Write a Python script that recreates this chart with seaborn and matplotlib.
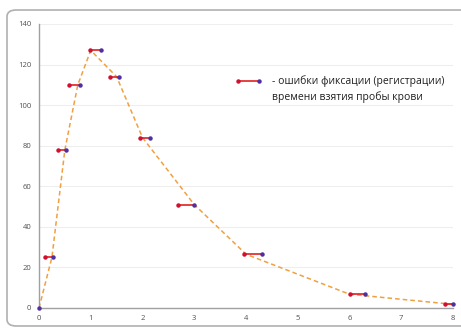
import matplotlib
matplotlib.use("Agg")
import matplotlib.pyplot as plt
import seaborn as sns
import pandas as pd
from matplotlib.patches import FancyBboxPatch
from matplotlib.lines import Line2D

time_h = [0, 0.25, 0.5, 0.75, 1.0, 1.5, 2.0, 3.0, 4.0, 6.0, 8.0]
conc = [0, 25, 78, 110, 127, 114, 84, 51, 26.5, 6.8, 1.8]
err_start = [0, 0.12, 0.37, 0.58, 0.98, 1.37, 1.96, 2.68, 3.97, 6.0, 7.85]
err_end = [0, 0.27, 0.52, 0.79, 1.20, 1.54, 2.14, 3.00, 4.30, 6.30, 8.0]
x_ticks = [0, 1, 2, 3, 4, 5, 6, 7, 8]
y_ticks = [0, 20, 40, 60, 80, 100, 120, 140]
legend_text = "- ошибки фиксации (регистрации)\nвремени взятия пробы крови"

sns.set_style("white")
plt.rcParams['font.family'] = ['Open Sans', 'DejaVu Sans']

fig = plt.figure(figsize=(4.61, 3.29), dpi=100)
frame = FancyBboxPatch((7/461, 3/329), 1.2, 316/329, boxstyle="round,pad=0,rounding_size=0.02",
                       transform=fig.transFigure, facecolor="none", edgecolor="#b0b0b0",
                       linewidth=1.2, zorder=-1)
fig.patches.append(frame)

ax = fig.add_axes([39/461, 1-308/329, 414/461, 284/329])
ax.set_facecolor("none")

df = pd.DataFrame({"t": time_h, "c": conc})
sns.lineplot(data=df, x="t", y="c", ax=ax, color="#f0a040", linestyle=(0, (3, 2)),
             linewidth=1.1, zorder=2)

for s, e, c in zip(err_start[1:], err_end[1:], conc[1:]):
    ax.plot([s, e], [c, c], color="#e02020", linewidth=1.2, zorder=3, clip_on=False)
    ax.plot([s], [c], marker="o", markersize=2.2, color="#d01030", zorder=4, clip_on=False)
    ax.plot([e], [c], marker="o", markersize=2.2, color="#5030a0", zorder=4, clip_on=False)
ax.plot([0], [0], marker="o", markersize=2.2, color="#5030a0", zorder=4, clip_on=False)

ax.set_xlim(0, 8)
ax.set_ylim(0, 140)
ax.set_xticks(x_ticks)
ax.set_yticks(y_ticks)
ax.set_xlabel("")
ax.set_ylabel("")
ax.tick_params(axis="both", labelsize=5.5, colors="#505050", length=2.5, width=0.8, pad=3)
ax.tick_params(axis="x", direction="inout", length=4)
for sp in ["top", "right"]:
    ax.spines[sp].set_visible(False)
for sp in ["left", "bottom"]:
    ax.spines[sp].set_color("#a0a0a0")
    ax.spines[sp].set_linewidth(1.0)
ax.yaxis.grid(True, color="#eeeeee", linewidth=0.8)
ax.set_axisbelow(True)

# legend-like annotation
lx0, lx1 = 238/461, 259/461
ly = 1 - 81/329
fig.add_artist(Line2D([lx0, lx1], [ly, ly], color="#e02020", linewidth=1.2, transform=fig.transFigure))
fig.add_artist(Line2D([lx0], [ly], marker="o", markersize=2.2, color="#d01030", transform=fig.transFigure))
fig.add_artist(Line2D([lx1], [ly], marker="o", markersize=2.2, color="#5030a0", transform=fig.transFigure))
fig.text(272/461, 1 - 89/329, legend_text, fontsize=7.5, color="#202020", va="center",
         ha="left", linespacing=1.45)

fig.savefig("out.png", dpi=100)
